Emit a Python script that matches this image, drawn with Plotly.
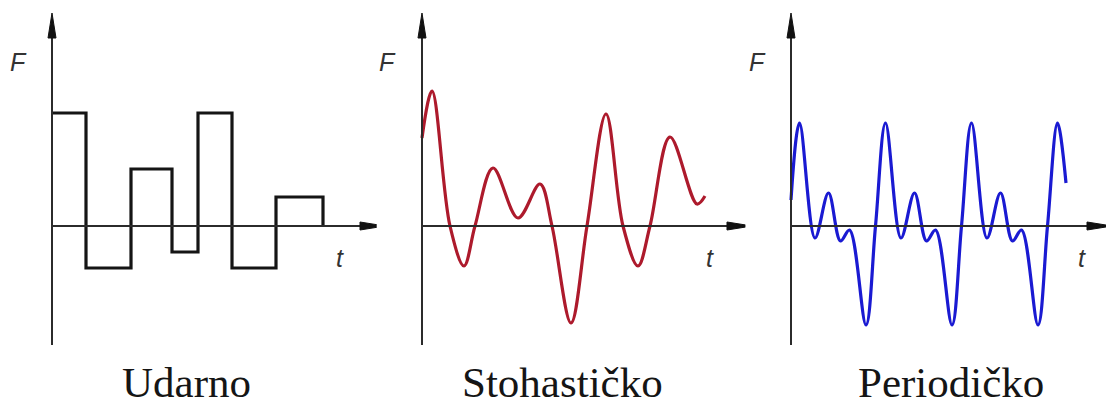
import plotly.graph_objects as go

# ---------------- data ----------------
# Panel 1: "Udarno" (impact) - step signal, t = step edges, F = level after edge
impact_t = [0, 3.4, 7.9, 12.0, 14.6, 18.0, 22.4, 27.1]
impact_F = [11.3, -4.2, 5.7, -2.6, 11.3, -4.2, 2.9, 0]

# Panel 2: "Stohastičko" (random) - extrema and zero crossings
stoch_t = [0, 1.0, 2.8, 4.2, 5.3, 7.1, 9.6, 11.8, 13.0, 14.9, 16.5, 18.4,
           20.1, 21.6, 22.8, 24.8, 27.5, 28.3]
stoch_F = [8.8, 13.5, 0, -4.0, 0, 5.8, 0.8, 4.2, 0, -9.7, 0, 11.2,
           0, -4.0, 0, 8.9, 2.2, 3.0]

# Panel 3: "Periodičko" (periodic) - extrema and zero crossings
per_t = [0, 0.85, 2.4, 3.75, 4.95, 5.85, 7.5, 8.45,
         9.45, 11.0, 12.35, 13.55, 14.45, 16.1, 17.05,
         18.05, 19.6, 20.95, 22.15, 23.05, 24.7, 25.65,
         26.65, 27.5]
per_F = [2.6, 10.3, -1.2, 3.3, -1.5, -0.4, -9.9, 0,
         10.3, -1.2, 3.3, -1.5, -0.4, -9.9, 0,
         10.3, -1.2, 3.3, -1.5, -0.4, -9.9, 0,
         10.3, 4.3]

captions = ["Udarno", "Stohastičko", "Periodičko"]
axis_label_F = "F"
axis_label_t = "t"

# ---------------- layout constants ----------------
PAGE_W, PAGE_H = 1114, 407
OFF = 8                         # default page margin of the html body
W, H = PAGE_W - OFF, PAGE_H - OFF
PX = 10.0                       # pixels per data unit
y_axis_px = [52, 422, 791]      # page x of each vertical axis
x_axis_px = 226                 # page y of horizontal axis
t_tip = [33.3, 33.0, 32.1]      # x-axis arrow tip (data units)
F_tip = 21.3                    # y-axis arrow tip
F_bot = -11.9                   # y-axis bottom end
F_lab = (-3.4, 16.4)
t_lab = [(28.8, -3.2), (28.8, -3.2), (29.1, -3.2)]
cap_x = [13.4, 14.1, 16.0]

AX_COL = "#2b2b2b"
colors = ["#151515", "#ad1a2c", "#1a1ad2"]

fig = go.Figure()

traces = [
    (impact_t, impact_F, "hv"),
    (stoch_t, stoch_F, "spline"),
    (per_t, per_F, "spline"),
]

layout = dict(
    width=W, height=H, autosize=False,
    margin=dict(l=0, r=0, t=0, b=0),
    paper_bgcolor="white", plot_bgcolor="white",
    showlegend=False,
)
shapes = []
annotations = []

for i, (tx, fy, shape) in enumerate(traces):
    xa = "x" if i == 0 else f"x{i+1}"
    ya = "y" if i == 0 else f"y{i+1}"
    xkey = "xaxis" if i == 0 else f"xaxis{i+1}"
    ykey = "yaxis" if i == 0 else f"yaxis{i+1}"
    left_px = (y_axis_px[i] - OFF) - i * W / 3
    x0 = -left_px / PX
    layout[xkey] = dict(domain=[i / 3, (i + 1) / 3], range=[x0, x0 + (W / 3) / PX],
                        visible=False, anchor=ya)
    layout[ykey] = dict(domain=[0, 1],
                        range=[(x_axis_px - PAGE_H) / PX, (x_axis_px - OFF) / PX],
                        visible=False, anchor=xa)

    # axes lines
    shapes.append(dict(type="line", xref=xa, yref=ya, x0=0, x1=t_tip[i] - 1.0,
                       y0=0, y1=0, line=dict(color=AX_COL, width=2)))
    shapes.append(dict(type="line", xref=xa, yref=ya, x0=0, x1=0,
                       y0=F_bot, y1=F_tip - 1.0, line=dict(color=AX_COL, width=2)))
    # arrow heads (pixel-sized, anchored at tips)
    shapes.append(dict(type="path", xref=xa, yref=ya, xsizemode="pixel", ysizemode="pixel",
                       xanchor=t_tip[i], yanchor=0,
                       path="M0,0 L-25,4 L-25,-4 Z",
                       fillcolor="#111", line=dict(color="#111", width=1)))
    shapes.append(dict(type="path", xref=xa, yref=ya, xsizemode="pixel", ysizemode="pixel",
                       xanchor=0, yanchor=F_tip,
                       path="M0,0 L-4,-25 L4,-25 Z",
                       fillcolor="#111", line=dict(color="#111", width=1)))

    fig.add_trace(go.Scatter(x=tx, y=fy, mode="lines", xaxis=xa, yaxis=ya,
                             line=dict(color=colors[i], width=3.2, shape=shape,
                                       smoothing=1.0 if shape == "spline" else None),
                             hoverinfo="skip"))

    annotations.append(dict(xref=xa, yref=ya, x=F_lab[0], y=F_lab[1], text=axis_label_F,
                            showarrow=False,
                            font=dict(family="Liberation Sans", size=25, color="#333",
                                      style="italic")))
    annotations.append(dict(xref=xa, yref=ya, x=t_lab[i][0], y=t_lab[i][1], text=axis_label_t,
                            showarrow=False,
                            font=dict(family="Liberation Sans", size=25, color="#333",
                                      style="italic")))
    annotations.append(dict(xref=xa, yref="paper", x=cap_x[i], y=0.0,
                            yanchor="bottom", borderpad=0, text=captions[i],
                            showarrow=False,
                            font=dict(family="Liberation Serif", size=43, color="#151515")))

layout["shapes"] = shapes
layout["annotations"] = annotations
fig.update_layout(**layout)
fig.write_html("out.html")
